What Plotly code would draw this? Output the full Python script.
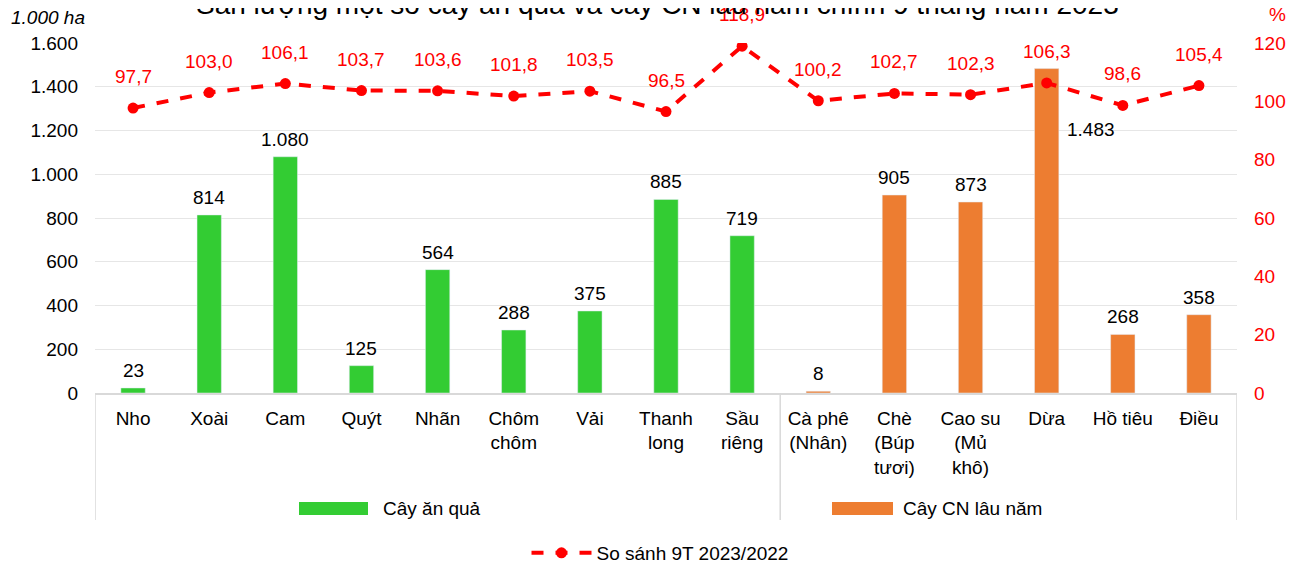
import plotly.graph_objects as go
from plotly.subplots import make_subplots

# Data
fruit_names = ["Nho", "Xoài", "Cam", "Quýt", "Nhãn", "Chôm<br>chôm", "Vải",
               "Thanh<br>long", "Sầu<br>riêng"]
fruit_values = [23, 814, 1080, 125, 564, 288, 375, 885, 719]

crop_names = ["Cà phê<br>(Nhân)", "Chè<br>(Búp<br>tươi)", "Cao su<br>(Mủ<br>khô)",
              "Dừa", "Hồ tiêu", "Điều"]
crop_values = [8, 905, 873, 1483, 268, 358]

compare_pct = [97.7, 103.0, 106.1, 103.7, 103.6, 101.8, 103.5, 96.5, 118.9,
               100.2, 102.7, 102.3, 106.3, 98.6, 105.4]

GREEN = "#33CC33"
ORANGE = "#ED7D31"
RED = "#FF0000"
FONT = "Liberation Sans, Arial, sans-serif"
FS = 19

# page has an 8px body margin, so the figure is drawn 8px in from the corner
W, H = 1288, 556
L, R, T, B = 87, 59, 35, 171
PW, PH = W - L - R, H - T - B


def px(x):
    # page pixel -> paper x
    return (x - 8 - L) / PW


def py(y):
    # page pixel -> paper y
    return (H - B - (y - 8)) / PH


def fmt_int(v):
    return f"{v:,}".replace(",", ".")


def fmt_dec(v):
    return f"{v:.1f}".replace(".", ",")


def label(x, y, text, color="black", size=FS, xanchor="center"):
    return dict(x=px(x), y=py(y), xref="paper", yref="paper", text=text,
                showarrow=False, xanchor=xanchor, yanchor="middle",
                font=dict(size=size, color=color, family=FONT))


all_names = fruit_names + crop_names

fig = make_subplots(specs=[[{"secondary_y": True}]])

fig.add_trace(go.Bar(x=fruit_names, y=fruit_values, name="Cây ăn quả",
                     marker_color=GREEN, width=0.32, showlegend=False),
              secondary_y=False)
fig.add_trace(go.Bar(x=crop_names, y=crop_values, name="Cây CN lâu năm",
                     marker_color=ORANGE, width=0.32, showlegend=False),
              secondary_y=False)
fig.add_trace(go.Scatter(x=all_names, y=compare_pct, mode="lines+markers",
                         name="So sánh 9T 2023/2022",
                         line=dict(color=RED, width=4, dash="dash"),
                         marker=dict(color=RED, size=11)),
              secondary_y=True)

annotations = []
# bar value labels
for name, v in zip(all_names, fruit_values + crop_values):
    a = dict(x=name, y=v, xref="x", yref="y", text=fmt_int(v), showarrow=False,
             yanchor="bottom", yshift=5, font=dict(size=FS, color="black", family=FONT))
    if name == "Dừa":
        a.update(yanchor="middle", yshift=-61, xshift=44)
    annotations.append(a)

# line value labels
for name, v in zip(all_names, compare_pct):
    annotations.append(dict(x=name, y=v, xref="x", yref="y2", text=fmt_dec(v),
                            showarrow=False, yanchor="bottom", yshift=19,
                            font=dict(size=FS, color=RED, family=FONT)))

# title (cut at top as in original)
annotations.append(label(657, 4, "Sản lượng một số cây ăn quả và cây CN lâu năm chính 9 tháng năm 2023",
                         size=28))
# axis unit labels
annotations.append(label(48, 17, "<i>1.000 ha</i>"))
annotations.append(label(1277, 15, "%", color=RED))
# group legend texts
annotations.append(label(381, 508, "Cây ăn quả", xanchor="left"))
annotations.append(label(901, 508, "Cây CN lâu năm", xanchor="left"))

shapes = []
# group separators below the axis
for xs in [-0.5, len(fruit_names) - 0.5, len(all_names) - 0.5]:
    shapes.append(dict(type="line", xref="x", yref="paper", x0=xs, x1=xs,
                       y0=0, y1=py(520), line=dict(color="#d9d9d9", width=1.5)))
# group swatches
shapes.append(dict(type="rect", xref="paper", yref="paper", x0=px(299), x1=px(368),
                   y0=py(515), y1=py(502), fillcolor=GREEN, line_width=0))
shapes.append(dict(type="rect", xref="paper", yref="paper", x0=px(832), x1=px(893),
                   y0=py(515), y1=py(502), fillcolor=ORANGE, line_width=0))

fig.update_layout(
    width=W, height=H,
    margin=dict(l=L, r=R, t=T, b=B, autoexpand=False),
    plot_bgcolor="white", paper_bgcolor="white",
    separators=",.",
    barmode="overlay",
    font=dict(family=FONT, size=FS, color="black"),
    showlegend=True,
    legend=dict(orientation="h", xref="container", yref="container",
                x=(660 - 8) / W, y=1 - (553 - 8) / H, xanchor="center",
                yanchor="middle", font=dict(size=FS), itemwidth=60),
    annotations=annotations,
    shapes=shapes,
)

fig.update_xaxes(type="category", categoryorder="array", categoryarray=all_names,
                 domain=[0, 1], range=[-0.5, len(all_names) - 0.5], autorange=False,
                 showline=True, linecolor="#d9d9d9", linewidth=1.5,
                 showgrid=False, ticks="", tickfont=dict(size=FS),
                 ticklabelstandoff=7, automargin=False)
fig.update_yaxes(range=[0, 1600], dtick=200, tickformat=",", showgrid=True,
                 gridcolor="#e6e6e6", zeroline=False, showline=False,
                 tickfont=dict(size=FS), ticklabelstandoff=16,
                 automargin=False, secondary_y=False)
fig.update_yaxes(range=[0, 120], dtick=20, showgrid=False, zeroline=False,
                 showline=False, tickfont=dict(size=FS, color=RED),
                 ticklabelstandoff=16, automargin=False, secondary_y=True)

fig.write_html("out.html")
